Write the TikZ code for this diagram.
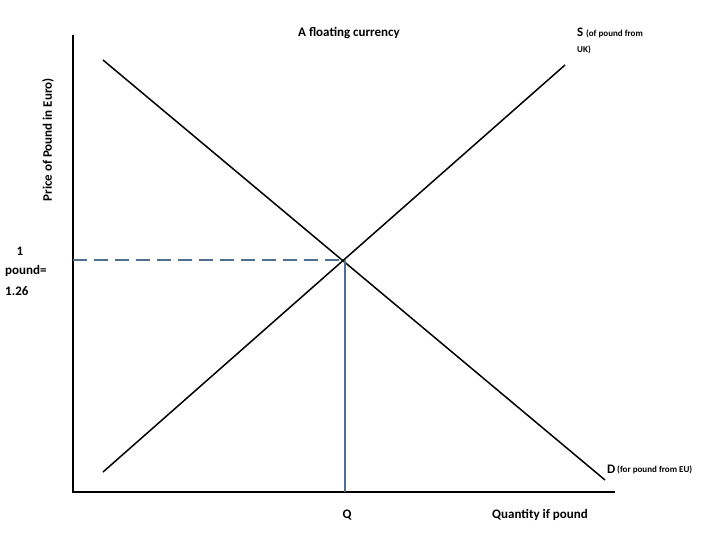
\documentclass[tikz,border=0pt]{standalone}
\usepackage{fontspec}
\setmainfont{Carlito}
\begin{document}
\begin{tikzpicture}[x=1pt,y=-1pt,
  lbl/.style={font=\bfseries\fontsize{13}{15}\selectfont,inner sep=0pt},
  sm/.style={font=\bfseries\fontsize{9}{10}\selectfont,inner sep=0pt},
  curve/.style={line width=1.5pt,black},
  guide/.style={color={rgb,255:red,79;green,111;blue,145},line width=1.1pt}]
\useasboundingbox (0,0) rectangle (728,546);
\coordinate (yt) at (73,35); \coordinate (o) at (73,492); \coordinate (xr) at (615,492);
\draw[line width=2pt] (yt) -- (o) -- (xr);
\coordinate (d1) at (103,60); \coordinate (d2) at (605,480);
\coordinate (s1) at (103,472); \coordinate (s2) at (565,65);
\draw[curve] (d1) -- (d2);
\draw[curve] (s1) -- (s2);
\coordinate (e) at (345,260); \coordinate (ey) at (73,260); \coordinate (ex) at (345,492);
\draw[guide,dash pattern=on 14pt off 7pt] (ey) -- (e);
\draw[guide] (e) -- (ex);
\node[lbl] (t) at (349,33) {A floating currency};
\node[lbl,anchor=west] (s) at (577,32) {S};
\node[sm,anchor=west] (s3) at (586,34) {(of pound from};
\node[sm,anchor=west] (s4) at (577,50) {UK)};
\node[lbl,anchor=west] (dl) at (607,469) {D};
\node[sm,anchor=west] (dl2) at (617,470) {(for pound from EU)};
\node[lbl] (q) at (347,515) {Q};
\node[lbl] (qi) at (540,515) {Quantity if pound};
\node[lbl,rotate=90] (yl) at (48,140) {Price of Pound in Euro)};
\node[lbl] (p1) at (20,251) {1};
\node[lbl,anchor=west] (p2) at (5,271) {pound=};
\node[lbl,anchor=west] (p3) at (5,291) {1.26};
\end{tikzpicture}
\end{document}
